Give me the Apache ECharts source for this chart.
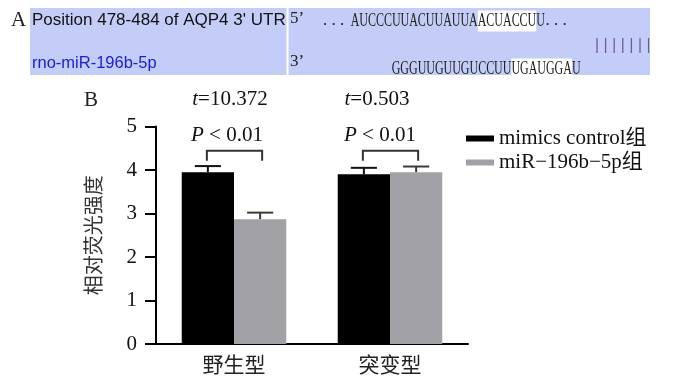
<!DOCTYPE html>
<html>
<head>
<meta charset="utf-8">
<script src="https://cdn.jsdelivr.net/npm/echarts@6/dist/echarts.min.js"></script>
<style>html,body{margin:0;padding:0;background:#fff;}#c{width:678px;height:384px;}</style>
</head>
<body>
<div id="c"></div>
<script>
// ---- data ----
const categories = ['野生型', '突变型'];
const seriesNames = ['mimics control组', 'miR\u2212196b\u22125p组'];
const controlMeans = [3.95, 3.90];
const controlErr = [0.14, 0.15];
const mimicMeans = [2.87, 3.95];
const mimicErr = [0.15, 0.13];
const tValues = ['10.372', '0.503'];
const pTexts = ['P', 'P'];
const pValues = ['< 0.01', '< 0.01'];
const bracketTops = [4.44, 4.44];
const bracketLegs = [4.21, 4.21];
const yMin = 0, yMax = 5, yStep = 1;

const SERIF = "'Liberation Serif','Times New Roman','Noto Sans CJK SC',serif";
const CJK = "'Noto Sans CJK SC',sans-serif";
const GAP = 0.33;

const chart = echarts.init(document.getElementById('c'), null, {renderer: 'canvas'});

function barGeom(api, ci, s) {
  const band = api.size([1, 0])[0];
  const bw = band * (1 - GAP) / 2;
  const cx = api.coord([ci, 0])[0] + (s === 0 ? -bw / 2 : bw / 2);
  return {cx, bw};
}

const errData = [];
controlMeans.forEach((m, i) => errData.push([i, m, controlErr[i], 0]));
mimicMeans.forEach((m, i) => errData.push([i, m, mimicErr[i], 1]));

const bracketData = categories.map((c, i) => [i, bracketTops[i], bracketLegs[i]]);
const annoData = categories.map((c, i) => [i, i]);

const option = {
  animation: false,
  backgroundColor: '#fff',
  grid: {left: 156, right: 210, top: 126.5, bottom: 40, containLabel: false},
  xAxis: {
    type: 'category',
    data: categories,
    axisLine: {lineStyle: {color: '#000', width: 2}},
    axisTick: {alignWithLabel: true, length: 8, lineStyle: {color: '#000', width: 2}},
    axisLabel: {fontFamily: CJK, fontSize: 21, color: '#222', margin: 10}
  },
  yAxis: {
    type: 'value', min: yMin, max: yMax, interval: yStep,
    name: '相对荧光强度', nameLocation: 'middle', nameGap: 53,
    nameTextStyle: {fontFamily: CJK, fontSize: 20, color: '#333'},
    axisLine: {show: true, lineStyle: {color: '#000', width: 2}},
    axisTick: {show: true, length: 11, lineStyle: {color: '#000', width: 2}},
    axisLabel: {fontFamily: SERIF, fontSize: 21, color: '#111', margin: 19},
    splitLine: {show: false}
  },
  legend: {
    orient: 'vertical', left: 461, top: 123, itemWidth: 28, itemHeight: 6, itemGap: 3,
    icon: 'rect',
    textStyle: {fontFamily: SERIF, fontSize: 21, color: '#111'},
    data: seriesNames
  },
  series: [
    {name: seriesNames[0], type: 'bar', data: controlMeans, barGap: '0%', barCategoryGap: '33%',
     itemStyle: {color: '#000'}, z: 2},
    {name: seriesNames[1], type: 'bar', data: mimicMeans, barGap: '0%', barCategoryGap: '33%',
     itemStyle: {color: '#a2a2a6'}, z: 2},
    {type: 'custom', data: errData, z: 3, clip: false,
     dimensions: ['x', 'mean', 'err', 's'], encode: {x: 0, y: 1},
     renderItem: function (params, api) {
       const ci = api.value(0), m = api.value(1), e = api.value(2), s = api.value(3);
       const g = barGeom(api, ci, s);
       const yM = api.coord([ci, m])[1];
       const yT = api.coord([ci, m + e])[1];
       const half = g.bw * 0.25;
       const st = {stroke: s === 0 ? '#111' : '#3a3a3a', lineWidth: 2};
       return {type: 'group', children: [
         {type: 'line', shape: {x1: g.cx, y1: yM, x2: g.cx, y2: yT}, style: st},
         {type: 'line', shape: {x1: g.cx - half, y1: yT, x2: g.cx + half, y2: yT}, style: st}
       ]};
     }},
    {type: 'custom', data: bracketData, z: 3, clip: false,
     dimensions: ['x', 'top', 'leg'], encode: {x: 0, y: 1},
     renderItem: function (params, api) {
       const ci = api.value(0), t = api.value(1), l = api.value(2);
       const a = barGeom(api, ci, 0), b = barGeom(api, ci, 1);
       const yT = api.coord([ci, t])[1], yL = api.coord([ci, l])[1];
       return {type: 'polyline', shape: {points: [[a.cx - 1, yL], [a.cx - 1, yT], [b.cx + 2, yT], [b.cx + 2, yL]]},
               style: {stroke: '#333', lineWidth: 2, fill: null}};
     }},
    {type: 'custom', data: annoData, z: 4, clip: false,
     dimensions: ['x', 'i'], encode: {x: 0},
     renderItem: function (params, api) {
       const ci = api.value(0), i = api.value(1);
       const x = api.coord([ci, 0])[0] + (i === 0 ? -4 : -13);
       const yt = api.coord([ci, 5.61])[1];
       const yp = api.coord([ci, 4.8])[1];
       const rich = {i: {fontStyle: 'italic', fontFamily: SERIF, fontSize: 21, fill: '#111'},
                     n: {fontFamily: SERIF, fontSize: 21, fill: '#111'}};
       return {type: 'group', children: [
         {type: 'text', x: x, y: yt, style: {text: '{i|t}{n|=' + tValues[i] + '}', rich: rich, align: 'center', verticalAlign: 'middle'}},
         {type: 'text', x: x + (i === 0 ? -3 : 3), y: yp, style: {text: '{i|' + pTexts[i] + '}{n| ' + pValues[i] + '}', rich: rich, align: 'center', verticalAlign: 'middle'}}
       ]};
     }}
  ],
  graphic: {elements: (function () {
    const els = [];
    els.push({type: 'rect', shape: {x: 30, y: 8, width: 620, height: 67}, style: {fill: '#c3cdf7'}, silent: true});
    els.push({type: 'line', shape: {x1: 287.5, y1: 8, x2: 287.5, y2: 75}, style: {stroke: '#fff', lineWidth: 2}});
    els.push({type: 'text', x: 11, y: 20, style: {text: 'A', fontFamily: SERIF, fontSize: 21, fill: '#222', verticalAlign: 'middle'}});
    els.push({type: 'text', x: 84, y: 100, style: {text: 'B', fontFamily: SERIF, fontSize: 21, fill: '#222', verticalAlign: 'middle'}});
    els.push({type: 'text', x: 32, y: 20, style: {text: "Position 478-484 of AQP4 3' UTR", fontFamily: "'Liberation Sans',Arial,sans-serif", fontSize: 17, fill: '#111', verticalAlign: 'middle'}});
    els.push({type: 'text', x: 32, y: 63, style: {text: 'rno-miR-196b-5p', fontFamily: "'Liberation Sans',Arial,sans-serif", fontSize: 16.5, fill: '#1b1bd0', verticalAlign: 'middle'}});
    els.push({type: 'text', x: 290, y: 19, style: {text: '5\u2019', fontFamily: SERIF, fontSize: 17, fill: '#222', verticalAlign: 'middle'}});
    els.push({type: 'text', x: 290, y: 62, style: {text: '3\u2019', fontFamily: SERIF, fontSize: 17, fill: '#222', verticalAlign: 'middle'}});
    els.push({type: 'text', x: 323, y: 21, style: {text: '. . .', fontFamily: SERIF, fontSize: 17, fill: '#222', verticalAlign: 'middle'}});
    els.push({type: 'text', x: 545.5, y: 21, style: {text: '. . .', fontFamily: SERIF, fontSize: 17, fill: '#222', verticalAlign: 'middle'}});
    const FS = 19;
    const seqRich = {n: {fill: '#222', fontFamily: SERIF, fontSize: FS, padding: [1, 0, 1, 0]},
                     h: {fill: '#222', fontFamily: SERIF, fontSize: FS, backgroundColor: '#fff', padding: [1, 0, 1, 0]}};
    const seqRich2 = {n: {fill: '#222', fontFamily: SERIF, fontSize: FS, padding: [1, 0, 3, 0]},
                      h: {fill: '#222', fontFamily: SERIF, fontSize: FS, backgroundColor: '#fff', padding: [1, 0, 3, 0]}};
    els.push({type: 'text', x: 350.7, y: 21, scaleX: 0.63, style: {text: '{n|AUCCCUUACUUAUUA}{h|ACUACCU}{n|U}', rich: seqRich, verticalAlign: 'middle'}});
    els.push({type: 'text', x: 391.7, y: 70, scaleX: 0.63, style: {text: '{n|GGGUUGUUGUCCUU}{h|UGAUGGA}{n|U}', rich: seqRich2, verticalAlign: 'middle'}});
    for (let k = 0; k < 7; k++) {
      const x = 597 + k * 8.6;
      els.push({type: 'line', shape: {x1: x, y1: 38, x2: x, y2: 53}, style: {stroke: '#6d5b9c', lineWidth: 1.3}});
    }
    return els;
  })()}
};
chart.setOption(option);
</script>
</body>
</html>
